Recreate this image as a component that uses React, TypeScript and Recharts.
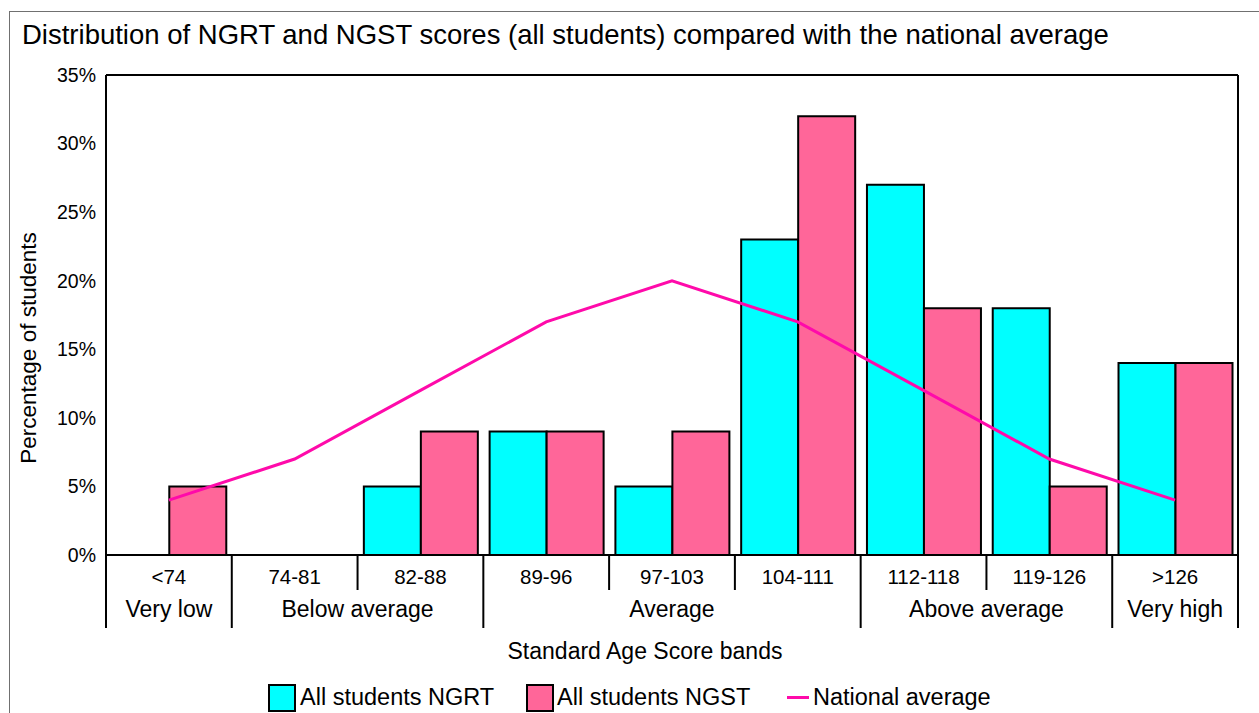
import React from 'react';
import { ComposedChart, Bar, Line, XAxis, YAxis, CartesianGrid, ReferenceLine, Legend } from 'recharts';

const categories = ['<74', '74-81', '82-88', '89-96', '97-103', '104-111', '112-118', '119-126', '>126'];
const ngrtValues = [0, 0, 5, 9, 5, 23, 27, 18, 14];
const ngstValues = [5, 0, 9, 9, 9, 32, 18, 5, 14];
const nationalValues = [4, 7, 12, 17, 20, 17, 12, 7, 4];
const groupLabels = ['Very low', 'Below average', 'Average', 'Above average', 'Very high'];
const groupSpans = [1, 2, 3, 2, 1];
const yTicks = [0, 5, 10, 15, 20, 25, 30, 35];
const seriesNames = ['All students NGRT', 'All students NGST', 'National average'];

const data = categories.map((c, i) => ({
  band: c,
  ngrt: ngrtValues[i],
  ngst: ngstValues[i],
  national: nationalValues[i],
}));

const W = 1259;
const H = 713;
const M_TOP = 75;
const M_RIGHT = 20;
const Y_W = 106;
const X_H = 126;
const LEG_H = 32;
const PLOT_W = W - Y_W - M_RIGHT - 1;
const FONT = '"Liberation Sans", Arial, sans-serif';

const C_NGRT = '#00FFFF';
const C_NGST = '#FF6699';
const C_NAT = '#FF0AAA';

const groupStarts: number[] = [];
{
  let s = 0;
  groupSpans.forEach((sp) => {
    groupStarts.push(s);
    s += sp;
  });
}

const XTick = (props: any) => {
  const { x, y, payload } = props;
  const i = payload.index;
  const w = PLOT_W / categories.length;
  const left = x - w / 2;
  const gi = groupStarts.indexOf(i);
  const isStart = gi >= 0;
  return (
    <g>
      <text x={x} y={y + 21} textAnchor="middle" dominantBaseline="central" fontSize={20.5} fontFamily={FONT} fill="#000">
        {payload.value}
      </text>
      <line x1={left} x2={left} y1={y} y2={y + (isStart ? 73 : 35)} stroke="#000" strokeWidth={2} />
      {i === categories.length - 1 && (
        <line x1={x + w / 2} x2={x + w / 2} y1={y} y2={y + 73} stroke="#000" strokeWidth={2} />
      )}
      {isStart && (
        <text
          x={left + (groupSpans[gi] * w) / 2}
          y={y + 54}
          textAnchor="middle"
          dominantBaseline="central"
          fontSize={23}
          fontFamily={FONT}
          fill="#000"
        >
          {groupLabels[gi]}
        </text>
      )}
    </g>
  );
};

const legendSwatch = (left: number, color: string) => (
  <span
    style={{
      position: 'absolute',
      left,
      top: 3,
      width: 24,
      height: 24,
      background: color,
      border: '2px solid #000',
    }}
  />
);

const legendText = (left: number, text: string) => (
  <span style={{ position: 'absolute', left, top: 0, lineHeight: `${LEG_H}px`, whiteSpace: 'nowrap' }}>{text}</span>
);

const LegendContent = () => (
  <div
    style={{
      position: 'relative',
      height: LEG_H,
      width: W,
      fontFamily: FONT,
      fontSize: 23.5,
      color: '#000',
    }}
  >
    {legendSwatch(268, C_NGRT)}
    {legendText(300, seriesNames[0])}
    {legendSwatch(526, C_NGST)}
    {legendText(557, seriesNames[1])}
    <span style={{ position: 'absolute', left: 787, top: 15, width: 22, height: 3, background: C_NAT }} />
    {legendText(813, seriesNames[2])}
  </div>
);

export default function App() {
  return (
    <div style={{ position: 'fixed', left: 0, top: 0, width: W, height: H, overflow: 'hidden', background: '#fff' }}>
      <div
        style={{
          position: 'absolute',
          left: 9,
          top: 11,
          width: 1400,
          height: 900,
          border: '1px solid #707070',
        }}
      />
      <div
        style={{
          position: 'absolute',
          left: 22,
          top: 19,
          fontFamily: FONT,
          fontSize: 27.5,
          color: '#000',
          whiteSpace: 'nowrap',
          lineHeight: '32px',
        }}
      >
        Distribution of NGRT and NGST scores (all students) compared with the national average
      </div>
      <div style={{ position: 'absolute', left: 0, top: 0 }}>
        <ComposedChart
          width={W}
          height={H}
          data={data}
          margin={{ top: M_TOP, right: M_RIGHT, left: 0, bottom: 0 }}
          barCategoryGap="5%"
          barGap={0}
        >
          <CartesianGrid horizontal vertical={false} stroke="#d9d9d9" strokeWidth={1.5} />
          <XAxis
            dataKey="band"
            height={X_H}
            interval={0}
            tickLine={false}
            tickSize={0}
            tickMargin={0}
            axisLine={{ stroke: '#000', strokeWidth: 2 }}
            tick={<XTick />}
            label={() => (
              <text x={645} y={651} textAnchor="middle" dominantBaseline="central" fontSize={23} fontFamily={FONT} fill="#000">
                Standard Age Score bands
              </text>
            )}
          />
          <YAxis
            yAxisId="left"
            width={Y_W}
            domain={[0, 35]}
            ticks={yTicks}
            tickFormatter={(v: number) => `${v}%`}
            tickLine={false}
            tickSize={0}
            tickMargin={10}
            axisLine={{ stroke: '#000', strokeWidth: 2 }}
            tick={{ fontSize: 19.5, fontFamily: FONT, fill: '#000' }}
            label={() => (
              <text
                x={28}
                y={348}
                textAnchor="middle"
                dominantBaseline="central"
                fontSize={22.5}
                fontFamily={FONT}
                fill="#000"
                transform="rotate(-90 28 348)"
              >
                Percentage of students
              </text>
            )}
          />
          <YAxis
            yAxisId="right"
            orientation="right"
            width={1}
            domain={[0, 35]}
            ticks={yTicks}
            tick={false}
            tickLine={false}
            axisLine={{ stroke: '#000', strokeWidth: 2 }}
          />
          <ReferenceLine yAxisId="left" y={35} stroke="#000" strokeWidth={2} />
          <Bar yAxisId="left" dataKey="ngrt" name={seriesNames[0]} fill={C_NGRT} stroke="#000" strokeWidth={2} isAnimationActive={false} />
          <Bar yAxisId="left" dataKey="ngst" name={seriesNames[1]} fill={C_NGST} stroke="#000" strokeWidth={2} isAnimationActive={false} />
          <Line
            yAxisId="left"
            type="linear"
            dataKey="national"
            name={seriesNames[2]}
            stroke={C_NAT}
            strokeWidth={3}
            dot={false}
            activeDot={false}
            isAnimationActive={false}
          />
          <Legend verticalAlign="bottom" height={LEG_H} content={<LegendContent />} />
        </ComposedChart>
      </div>
    </div>
  );
}
